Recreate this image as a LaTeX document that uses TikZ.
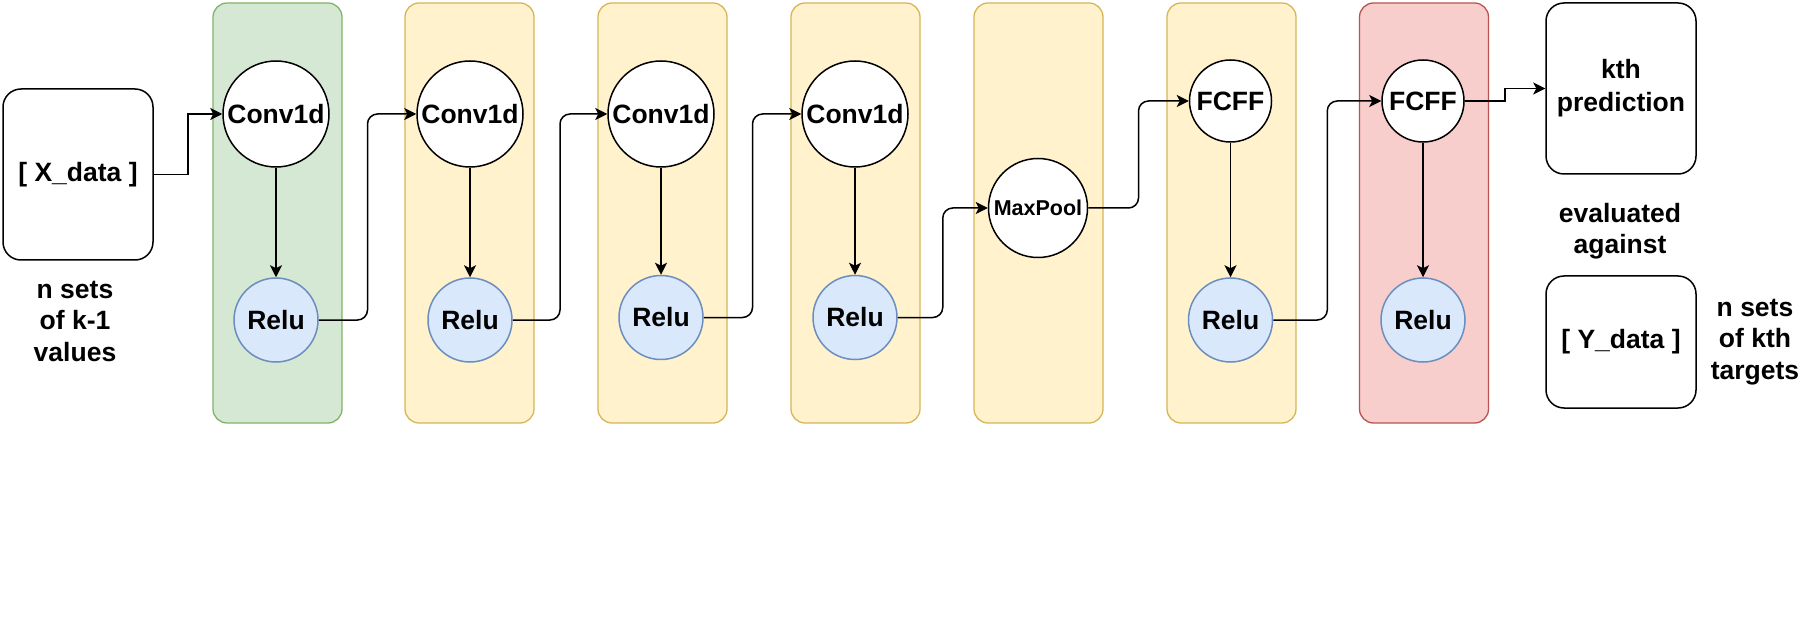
\documentclass[tikz,border=0pt]{standalone}
\usepackage{fontspec}
\setmainfont{Liberation Sans}
\usepackage{tikz}
\usetikzlibrary{positioning,arrows.meta,calc}
\definecolor{greenfill}{HTML}{D5E8D4}
\definecolor{greenline}{HTML}{82B366}
\definecolor{yellowfill}{HTML}{FFF2CC}
\definecolor{yellowline}{HTML}{D6B656}
\definecolor{redfill}{HTML}{F8CECC}
\definecolor{redline}{HTML}{B85450}
\definecolor{bluefill}{HTML}{DAE8FC}
\definecolor{blueline}{HTML}{6C8EBF}
\tikzset{
  layer/.style={rounded corners=14pt,draw=yellowline,fill=yellowfill,line width=1.3pt,minimum width=129pt,minimum height=420pt,inner sep=0pt},
  inlayer/.style={layer,draw=greenline,fill=greenfill},
  outlayer/.style={layer,draw=redline,fill=redfill},
  op/.style={circle,draw=black,fill=white,line width=1.5pt,minimum size=106pt,inner sep=0pt,font=\fontsize{26.5}{30}\selectfont\bfseries},
  dense/.style={op,minimum size=82pt},
  pool/.style={op,minimum size=99pt,font=\fontsize{21.5}{24}\selectfont\bfseries},
  act/.style={op,minimum size=84pt,draw=blueline,fill=bluefill},
  data/.style={rectangle,rounded corners=18pt,draw=black,fill=white,line width=1.5pt,minimum width=150pt,inner sep=0pt,align=center,font=\fontsize{26.5}{33}\selectfont\bfseries},
  note/.style={align=center,font=\fontsize{26.5}{31.5}\selectfont\bfseries},
  arrow/.style={-{Stealth[length=12pt,width=12pt,inset=3pt]},line width=1.5pt},
  link/.style={arrow,rounded corners=10pt}
}
\begin{document}
\begin{tikzpicture}[x=1pt,y=-1pt]
  \useasboundingbox (0,0) rectangle (1806,636);
  % layer columns
  \node[inlayer] (col1) at (277.5,213) {};
  \node[layer] (col2) at (469.5,213) {};
  \node[layer] (col3) at (662.5,213) {};
  \node[layer] (col4) at (855.5,213) {};
  \node[layer] (col5) at (1038.5,213) {};
  \node[layer] (col6) at (1231.5,213) {};
  \node[outlayer] (col7) at (1424,213) {};
  % input and targets
  \node[data,minimum height=171pt] (xdata) at (78,174.5) {[ X\_data ]};
  \node[note] (xnote) at (75,321) {n sets\\of k-1\\values};
  \node[data,minimum height=171pt] (pred) at (1621,88.5) {kth\\prediction};
  \node[note] (eval) at (1620,231) {evaluated\\against};
  \node[data,minimum height=132pt] (ydata) at (1621,342) {[ Y\_data ]};
  \node[note] (ynote) at (1755,342) {n sets\\of kth\\targets};
  % operations
  \node[op] (conv1) at (276,114) {Conv1d};
  \node[act] (relu1) at (276,320) {Relu};
  \node[op] (conv2) at (470,114) {Conv1d};
  \node[act] (relu2) at (470,320) {Relu};
  \node[op] (conv3) at (661,114) {Conv1d};
  \node[act] (relu3) at (661,317.5) {Relu};
  \node[op] (conv4) at (855,114) {Conv1d};
  \node[act] (relu4) at (855,317.5) {Relu};
  \node[pool] (pool) at (1038,208) {MaxPool};
  \node[dense] (fcff1) at (1230.5,101) {FCFF};
  \node[act] (relu6) at (1230.5,320) {Relu};
  \node[dense] (fcff2) at (1423,101) {FCFF};
  \node[act] (relu7) at (1423,320) {Relu};
  % connectors
  \draw[arrow] (xdata.east) -| ($(xdata.east)!.5!(conv1.west)$) |- (conv1.west);
  \draw[arrow] (conv1) -- (relu1);
  \draw[link] (relu1.east) -| ($(relu1.east)!.5!(conv2.west)$) |- (conv2.west);
  \draw[arrow] (conv2) -- (relu2);
  \draw[link] (relu2.east) -| ($(relu2.east)!.5!(conv3.west)$) |- (conv3.west);
  \draw[arrow] (conv3) -- (relu3);
  \draw[link] (relu3.east) -| ($(relu3.east)!.5!(conv4.west)$) |- (conv4.west);
  \draw[arrow] (conv4) -- (relu4);
  \draw[link] (relu4.east) -| ($(relu4.east)!.5!(pool.west)$) |- (pool.west);
  \draw[link] (pool.east) -| ($(pool.east)!.5!(fcff1.west)$) |- (fcff1.west);
  \draw[arrow] (fcff1) -- (relu6);
  \draw[link] (relu6.east) -| ($(relu6.east)!.5!(fcff2.west)$) |- (fcff2.west);
  \draw[arrow] (fcff2) -- (relu7);
  \draw[arrow] (fcff2.east) -| ($(fcff2.east)!.5!(pred.west)$) |- (pred.west);
\end{tikzpicture}
\end{document}
